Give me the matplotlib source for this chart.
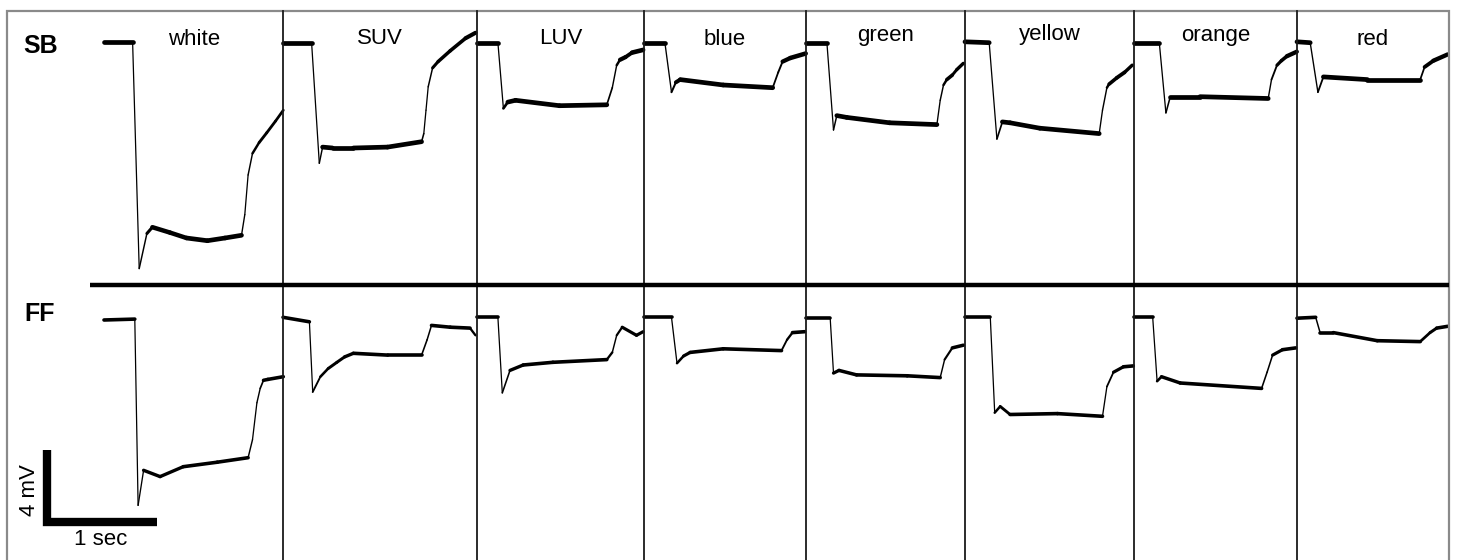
import numpy as np
import matplotlib
matplotlib.use("Agg")
import matplotlib.pyplot as plt
from matplotlib.collections import LineCollection

# stimulus names (one column each) and the two cell types (rows)
stimuli = ["white", "SUV", "LUV", "blue", "green", "yellow", "orange", "red"]
rows = ["SB", "FF"]

# traces: time (s) from trace start, voltage (mV) from rest
sb_white_t = [0, 0.26, 0.32, 0.39, 0.44, 0.60, 0.75, 0.94, 1.10, 1.25, 1.28, 1.31, 1.35, 1.41, 1.48, 1.56, 1.63]
sb_white_mv = [-0.1, -0.1, -12.7, -10.75, -10.4, -10.7, -11.0, -11.15, -11.0, -10.85, -9.7, -7.5, -6.3, -5.7, -5.15, -4.5, -3.9]
sb_suv_t = [0, 0.26, 0.33, 0.36, 0.45, 0.64, 0.95, 1.26, 1.28, 1.30, 1.32, 1.36, 1.41, 1.52, 1.66, 1.75]
sb_suv_mv = [-0.15, -0.15, -6.85, -5.95, -6.0, -6.0, -5.95, -5.65, -5.2, -3.9, -2.6, -1.55, -1.2, -0.6, 0.1, 0.4]
sb_luv_t = [0, 0.19, 0.24, 0.28, 0.35, 0.75, 1.18, 1.23, 1.27, 1.30, 1.35, 1.41, 1.51]
sb_luv_mv = [-0.15, -0.15, -3.8, -3.45, -3.35, -3.65, -3.6, -2.65, -1.4, -1.1, -0.95, -0.7, -0.55]
sb_blue_t = [0, 0.19, 0.25, 0.29, 0.33, 0.72, 1.17, 1.22, 1.26, 1.33, 1.47]
sb_blue_mv = [-0.15, -0.15, -2.9, -2.35, -2.2, -2.5, -2.65, -1.8, -1.2, -1.0, -0.75]
sb_green_t = [0, 0.19, 0.25, 0.28, 0.37, 0.76, 1.19, 1.22, 1.25, 1.28, 1.33, 1.37, 1.43]
sb_green_mv = [-0.15, -0.15, -5.0, -4.2, -4.3, -4.6, -4.7, -3.35, -2.5, -2.2, -1.95, -1.65, -1.3]
sb_yellow_t = [0, 0.22, 0.29, 0.34, 0.41, 0.68, 1.22, 1.25, 1.29, 1.31, 1.38, 1.45, 1.52]
sb_yellow_mv = [-0.1, -0.15, -5.5, -4.55, -4.6, -4.9, -5.2, -3.9, -2.65, -2.45, -2.1, -1.8, -1.4]
sb_orange_t = [0, 0.23, 0.29, 0.33, 0.60, 1.22, 1.25, 1.30, 1.34, 1.39, 1.48]
sb_orange_mv = [-0.15, -0.15, -4.05, -3.15, -3.15, -3.25, -2.2, -1.4, -1.15, -0.9, -0.65]
sb_red_t = [0, 0.12, 0.19, 0.24, 0.64, 1.12, 1.16, 1.24, 1.37]
sb_red_mv = [-0.1, -0.15, -2.9, -2.05, -2.2, -2.2, -1.5, -1.15, -0.8]

ff_white_t = [0, 0.28, 0.31, 0.36, 0.51, 0.72, 1.03, 1.31, 1.35, 1.39, 1.42, 1.45, 1.49, 1.63]
ff_white_mv = [0, 0.05, -10.3, -8.35, -8.7, -8.15, -7.9, -7.65, -6.65, -4.6, -3.8, -3.35, -3.3, -3.15]
ff_suv_t = [0, 0.24, 0.27, 0.34, 0.41, 0.49, 0.56, 0.64, 0.95, 1.26, 1.31, 1.35, 1.52, 1.70, 1.75]
ff_suv_mv = [0.15, -0.1, -4.0, -3.15, -2.7, -2.35, -2.05, -1.85, -1.95, -1.95, -1.1, -0.3, -0.4, -0.45, -0.85]
ff_luv_t = [0, 0.19, 0.23, 0.30, 0.42, 0.69, 1.18, 1.23, 1.27, 1.32, 1.45, 1.51]
ff_luv_mv = [0.15, 0.15, -4.05, -2.8, -2.5, -2.35, -2.2, -1.8, -0.85, -0.4, -0.85, -0.65]
ff_blue_t = [0, 0.25, 0.30, 0.36, 0.42, 0.72, 1.25, 1.30, 1.35, 1.46]
ff_blue_mv = [0.15, 0.15, -2.4, -2.0, -1.8, -1.6, -1.7, -1.1, -0.7, -0.65]
ff_green_t = [0, 0.22, 0.25, 0.30, 0.46, 0.92, 1.22, 1.26, 1.33, 1.43]
ff_green_mv = [0.1, 0.1, -2.95, -2.8, -3.05, -3.1, -3.2, -2.2, -1.55, -1.4]
ff_yellow_t = [0, 0.23, 0.27, 0.32, 0.41, 0.84, 1.25, 1.29, 1.35, 1.44, 1.53]
ff_yellow_mv = [0.15, 0.15, -5.15, -4.8, -5.25, -5.2, -5.35, -3.7, -2.9, -2.6, -2.55]
ff_orange_t = [0, 0.17, 0.21, 0.25, 0.42, 1.16, 1.21, 1.26, 1.35, 1.47]
ff_orange_mv = [0.15, 0.15, -3.4, -3.15, -3.5, -3.8, -2.9, -1.95, -1.65, -1.55]
ff_red_t = [0, 0.17, 0.21, 0.33, 0.73, 1.12, 1.21, 1.27, 1.37]
ff_red_mv = [0.1, 0.15, -0.7, -0.7, -1.15, -1.2, -0.7, -0.45, -0.35]

sb_traces = [(sb_white_t, sb_white_mv), (sb_suv_t, sb_suv_mv), (sb_luv_t, sb_luv_mv),
             (sb_blue_t, sb_blue_mv), (sb_green_t, sb_green_mv), (sb_yellow_t, sb_yellow_mv),
             (sb_orange_t, sb_orange_mv), (sb_red_t, sb_red_mv)]
ff_traces = [(ff_white_t, ff_white_mv), (ff_suv_t, ff_suv_mv), (ff_luv_t, ff_luv_mv),
             (ff_blue_t, ff_blue_mv), (ff_green_t, ff_green_mv), (ff_yellow_t, ff_yellow_mv),
             (ff_orange_t, ff_orange_mv), (ff_red_t, ff_red_mv)]

# scale bar size
bar_sec = 1
bar_mv = 4

# ---- layout (pixels of the 1457x560 picture) ----
W, H = 1457, 560
PX_S = 110.0    # pixels per second
PX_MV = 18.0    # pixels per mV
edges = [7, 283, 477, 644, 806, 965, 1134, 1297, 1449]
first_start = 104          # white traces start inside the first panel
row_top = [11, 285]
row_bot = [285, 560]
row_rest = [40, 320]       # pixel row of the resting level
row_lw = [3.4, 2.6]
label_base = [45, 44, 44, 45, 41, 40, 41, 45]
FONT = "Liberation Sans"

fig = plt.figure(figsize=(W / 100, H / 100), dpi=100)
fig.patch.set_facecolor("white")


def px_axes(x0, x1, y0, y1):
    ax = fig.add_axes([x0 / W, 1 - y1 / H, (x1 - x0) / W, (y1 - y0) / H])
    ax.set_axis_off()
    ax.patch.set_visible(False)
    return ax


def draw_trace(ax, t, mv, flat_lw):
    t = np.asarray(t, float)
    mv = np.asarray(mv, float)
    pts = np.column_stack([t, mv])
    segs = np.stack([pts[:-1], pts[1:]], axis=1)
    # noisy plateaus look thick, fast transitions thin
    slope = np.abs(np.diff(mv) * PX_MV) / np.maximum(np.abs(np.diff(t) * PX_S), 1e-6)
    lws = 0.9 + (flat_lw - 0.9) / (1 + (slope / 1.2) ** 2)
    lc = LineCollection(segs, colors="black", linewidths=lws, capstyle="round",
                        joinstyle="round", clip_on=False)
    ax.add_collection(lc)


panel_axes = []
for r, traces in enumerate([sb_traces, ff_traces]):
    ylim = ((row_rest[r] - row_bot[r]) / PX_MV, (row_rest[r] - row_top[r]) / PX_MV)
    for i, (t, mv) in enumerate(traces):
        x0, x1 = edges[i], edges[i + 1]
        ax = px_axes(x0, x1, row_top[r], row_bot[r])
        start = first_start if i == 0 else x0
        ax.set_xlim((x0 - start) / PX_S, (x1 - start) / PX_S)
        ax.set_ylim(*ylim)
        draw_trace(ax, t, mv, row_lw[r])
        panel_axes.append(ax)

# scale bar in the FF white panel, drawn in data units
sb_ax = panel_axes[8]
bx, by = -0.52, -11.2
sb_ax.plot([bx, bx, bx + bar_sec], [by + bar_mv, by, by], color="black", lw=6,
           solid_capstyle="butt", solid_joinstyle="miter", clip_on=False)
sb_ax.text(bx - 0.16, by + bar_mv / 2 - 0.25, f"{bar_mv} mV", rotation=90, ha="center",
           va="center", fontsize=16, family=FONT)
sb_ax.text(bx + 0.49, by - 1.0, f"{bar_sec} sec", ha="center", va="center",
           fontsize=16, family=FONT)

# frame, dividers and row separator on an overlay in pixel units
over = fig.add_axes([0, 0, 1, 1])
over.set_axis_off()
over.patch.set_visible(False)
over.set_xlim(0, W)
over.set_ylim(H, 0)
over.plot([edges[0], edges[0], edges[-1], edges[-1]], [H, row_top[0], row_top[0], H],
          color="#8a8a8a", lw=1.6, solid_joinstyle="miter")
for x in edges[1:-1]:
    over.plot([x, x], [row_top[0], H], color="#1a1a1a", lw=1.3)
over.plot([90, edges[-1]], [row_bot[0], row_bot[0]], color="black", lw=3.2,
          solid_capstyle="butt")

# labels
for i, name in enumerate(stimuli):
    cx = (edges[i] + edges[i + 1]) / 2 if i > 0 else 194
    fig.text(cx / W, 1 - label_base[i] / H, name, ha="center", va="baseline",
             fontsize=16, family=FONT)
fig.text(23 / W, 1 - 53 / H, rows[0], ha="left", va="baseline", fontsize=18,
         fontweight="bold", family=FONT)
fig.text(24 / W, 1 - 321 / H, rows[1], ha="left", va="baseline", fontsize=18,
         fontweight="bold", family=FONT)

fig.savefig("out.png", dpi=100, facecolor="white")
